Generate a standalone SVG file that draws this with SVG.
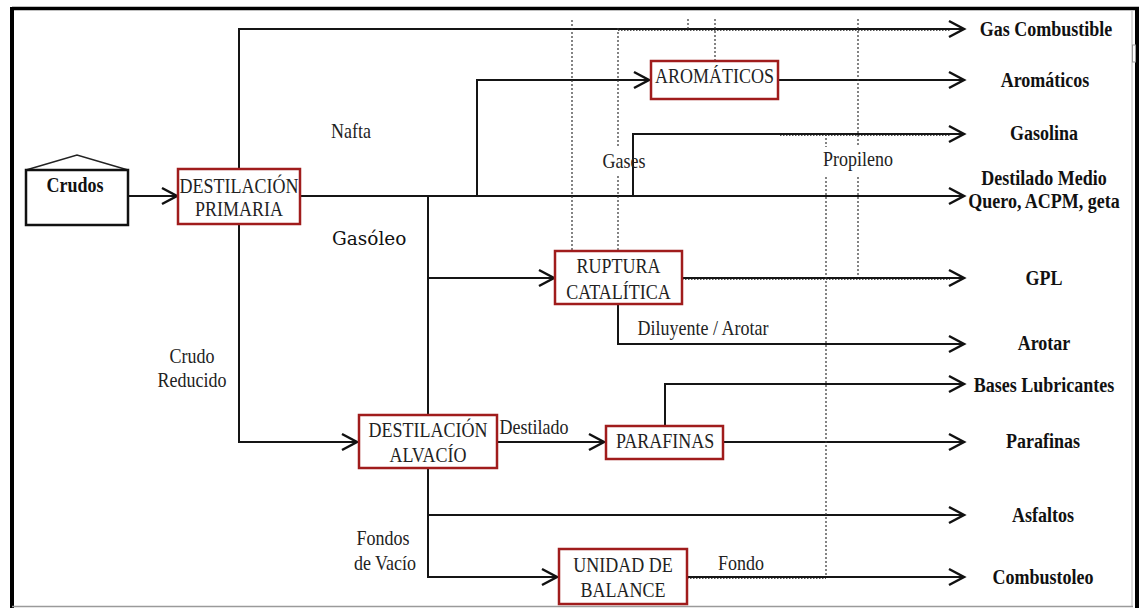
<svg xmlns="http://www.w3.org/2000/svg" width="1139" height="608" viewBox="0 0 1139 608">
<style>
.bg{fill:#ffffff}
.box{fill:#ffffff;stroke:#a01c1c;stroke-width:2.5}
.c{fill:none;stroke:#151515;stroke-width:2}
.d{fill:none;stroke:#333;stroke-width:1.2;stroke-dasharray:2 2}
.dd{fill:none;stroke:#555;stroke-width:1;stroke-dasharray:1.5 1.5}
.t{font-family:"Liberation Serif","Times New Roman",serif;font-size:18px;fill:#222;text-anchor:middle}
.b{font-family:"Liberation Serif","Times New Roman",serif;font-size:18px;font-weight:bold;fill:#111;text-anchor:middle}
.g{font-family:"DejaVu Serif",serif;font-size:18.5px;fill:#111}
</style>
<defs>
<marker id="arr" markerUnits="userSpaceOnUse" markerWidth="24" markerHeight="24" refX="15" refY="9" orient="auto" overflow="visible">
<path d="M1,1 L16,9 L1,17" fill="none" stroke="#111" stroke-width="2.5"/>
</marker>
</defs>
<rect class="bg" x="0" y="0" width="1139" height="608"/>
<g id="frame">
<line x1="12" y1="8.5" x2="1139" y2="8.5" stroke="#000" stroke-width="3.5"/>
<line x1="12" y1="7" x2="12" y2="608" stroke="#000" stroke-width="4"/>
<line x1="1137" y1="7" x2="1137" y2="608" stroke="#000" stroke-width="4"/>
<line x1="1132" y1="11" x2="1132" y2="606" stroke="#dcdcdc" stroke-width="2"/>
<line x1="12" y1="606.5" x2="1133" y2="606.5" stroke="#9a9a9a" stroke-width="1.5"/>
<rect x="1132.5" y="45" width="3" height="17" fill="#fff" stroke="#999" stroke-width="1"/>
</g>
<g id="connectors">
<path class="c" d="M128,196 H176" marker-end="url(#arr)"/>
<path class="c" d="M239,169 V29 H963" marker-end="url(#arr)"/>
<path class="c" d="M300,196 H963" marker-end="url(#arr)"/>
<path class="c" d="M477,196 V80 H648" marker-end="url(#arr)"/>
<path class="c" d="M778,80 H963" marker-end="url(#arr)"/>
<path class="c" d="M633,196 V134 H963" marker-end="url(#arr)"/>
<path class="c" d="M239,224 V442 H356" marker-end="url(#arr)"/>
<path class="c" d="M428,196 V415"/>
<path class="c" d="M428,278 H553" marker-end="url(#arr)"/>
<path class="c" d="M682,278 H963" marker-end="url(#arr)"/>
<path class="c" d="M618,304 V344 H963" marker-end="url(#arr)"/>
<path class="c" d="M497,442 H603" marker-end="url(#arr)"/>
<path class="c" d="M723,442 H963" marker-end="url(#arr)"/>
<path class="c" d="M665,426 V384 H963" marker-end="url(#arr)"/>
<path class="c" d="M428,468 V577 H556" marker-end="url(#arr)"/>
<path class="c" d="M428,515 H963" marker-end="url(#arr)"/>
<path class="c" d="M687,577 H963" marker-end="url(#arr)"/>
<path class="dd" d="M618,30.5 H950"/>
<path class="dd" d="M780,135.5 H950"/>
<path class="dd" d="M682,279.5 H950"/>
<path class="dd" d="M687,578.5 H826"/>
<path class="d" d="M572,20 V251"/>
<path class="d" d="M618,28 V146 M618,176 V251"/>
<path class="d" d="M688,19 V29"/>
<path class="d" d="M715,19 V61"/>
<path class="d" d="M858,19 V147 M858,177 V276"/>
<path class="d" d="M826,134 V147 M826,177 V577"/>
</g>
<g id="labels">
<text class="t" transform="translate(351 138) scale(1 1.15)">Nafta</text>
<text class="g" x="332" y="245">Gasóleo</text>
<text class="t" transform="translate(624 168) scale(1 1.15)">Gases</text>
<text class="t" transform="translate(858 166) scale(1 1.15)">Propileno</text>
<text class="t" transform="translate(703 335) scale(1 1.15)">Diluyente / Arotar</text>
<text class="t" transform="translate(192 363) scale(1 1.15)">Crudo</text>
<text class="t" transform="translate(192 387) scale(1 1.15)">Reducido</text>
<text class="t" transform="translate(534 434) scale(1 1.15)">Destilado</text>
<text class="t" transform="translate(383 545) scale(1 1.15)">Fondos</text>
<text class="t" transform="translate(385 570) scale(1 1.15)">de Vacío</text>
<text class="t" transform="translate(741 570) scale(1 1.15)">Fondo</text>
</g>
<g id="crudos">
<path d="M26,170 L77,155 L128,170" fill="none" stroke="#222" stroke-width="1.5"/>
<rect x="26" y="170" width="102" height="55" fill="#fff" stroke="#111" stroke-width="2.5"/>
<text class="b" transform="translate(75 192) scale(1 1.15)">Crudos</text>
</g>
<g id="destilacion-primaria">
<rect class="box" x="178" y="169" width="122" height="55"/>
<text class="t" transform="translate(239 193) scale(1 1.15)">DESTILACIÓN</text>
<text class="t" transform="translate(239 216) scale(1 1.15)">PRIMARIA</text>
</g>
<g id="aromaticos">
<rect class="box" x="651" y="61" width="127" height="38"/>
<text class="t" transform="translate(714.5 83) scale(1 1.15)">AROMÁTICOS</text>
</g>
<g id="ruptura-catalitica">
<rect class="box" x="555" y="251" width="127" height="53"/>
<text class="t" transform="translate(618.5 273) scale(1 1.15)">RUPTURA</text>
<text class="t" transform="translate(618.5 299) scale(1 1.15)">CATALÍTICA</text>
</g>
<g id="destilacion-alvacio">
<rect class="box" x="359" y="415" width="138" height="53"/>
<text class="t" transform="translate(428 437) scale(1 1.15)">DESTILACIÓN</text>
<text class="t" transform="translate(428 462) scale(1 1.15)">ALVACÍO</text>
</g>
<g id="parafinas">
<rect class="box" x="606" y="426" width="117" height="33"/>
<text class="t" transform="translate(665 448) scale(1 1.15)">PARAFINAS</text>
</g>
<g id="unidad-de-balance">
<rect class="box" x="559" y="549" width="128" height="55"/>
<text class="t" transform="translate(623 572) scale(1 1.15)">UNIDAD DE</text>
<text class="t" transform="translate(623 597) scale(1 1.15)">BALANCE</text>
</g>
<g id="outputs">
<text class="b" transform="translate(1046 36) scale(1 1.15)">Gas Combustible</text>
<text class="b" transform="translate(1045 87) scale(1 1.15)">Aromáticos</text>
<text class="b" transform="translate(1044 140) scale(1 1.15)">Gasolina</text>
<text class="b" transform="translate(1044 185) scale(1 1.15)">Destilado Medio</text>
<text class="b" transform="translate(1044 208) scale(1 1.15)">Quero, ACPM, geta</text>
<text class="b" transform="translate(1044 285) scale(1 1.15)">GPL</text>
<text class="b" transform="translate(1044 350) scale(1 1.15)">Arotar</text>
<text class="b" transform="translate(1044 392) scale(1 1.15)">Bases Lubricantes</text>
<text class="b" transform="translate(1043 448) scale(1 1.15)">Parafinas</text>
<text class="b" transform="translate(1043 522) scale(1 1.15)">Asfaltos</text>
<text class="b" transform="translate(1043 584) scale(1 1.15)">Combustoleo</text>
</g>
</svg>
